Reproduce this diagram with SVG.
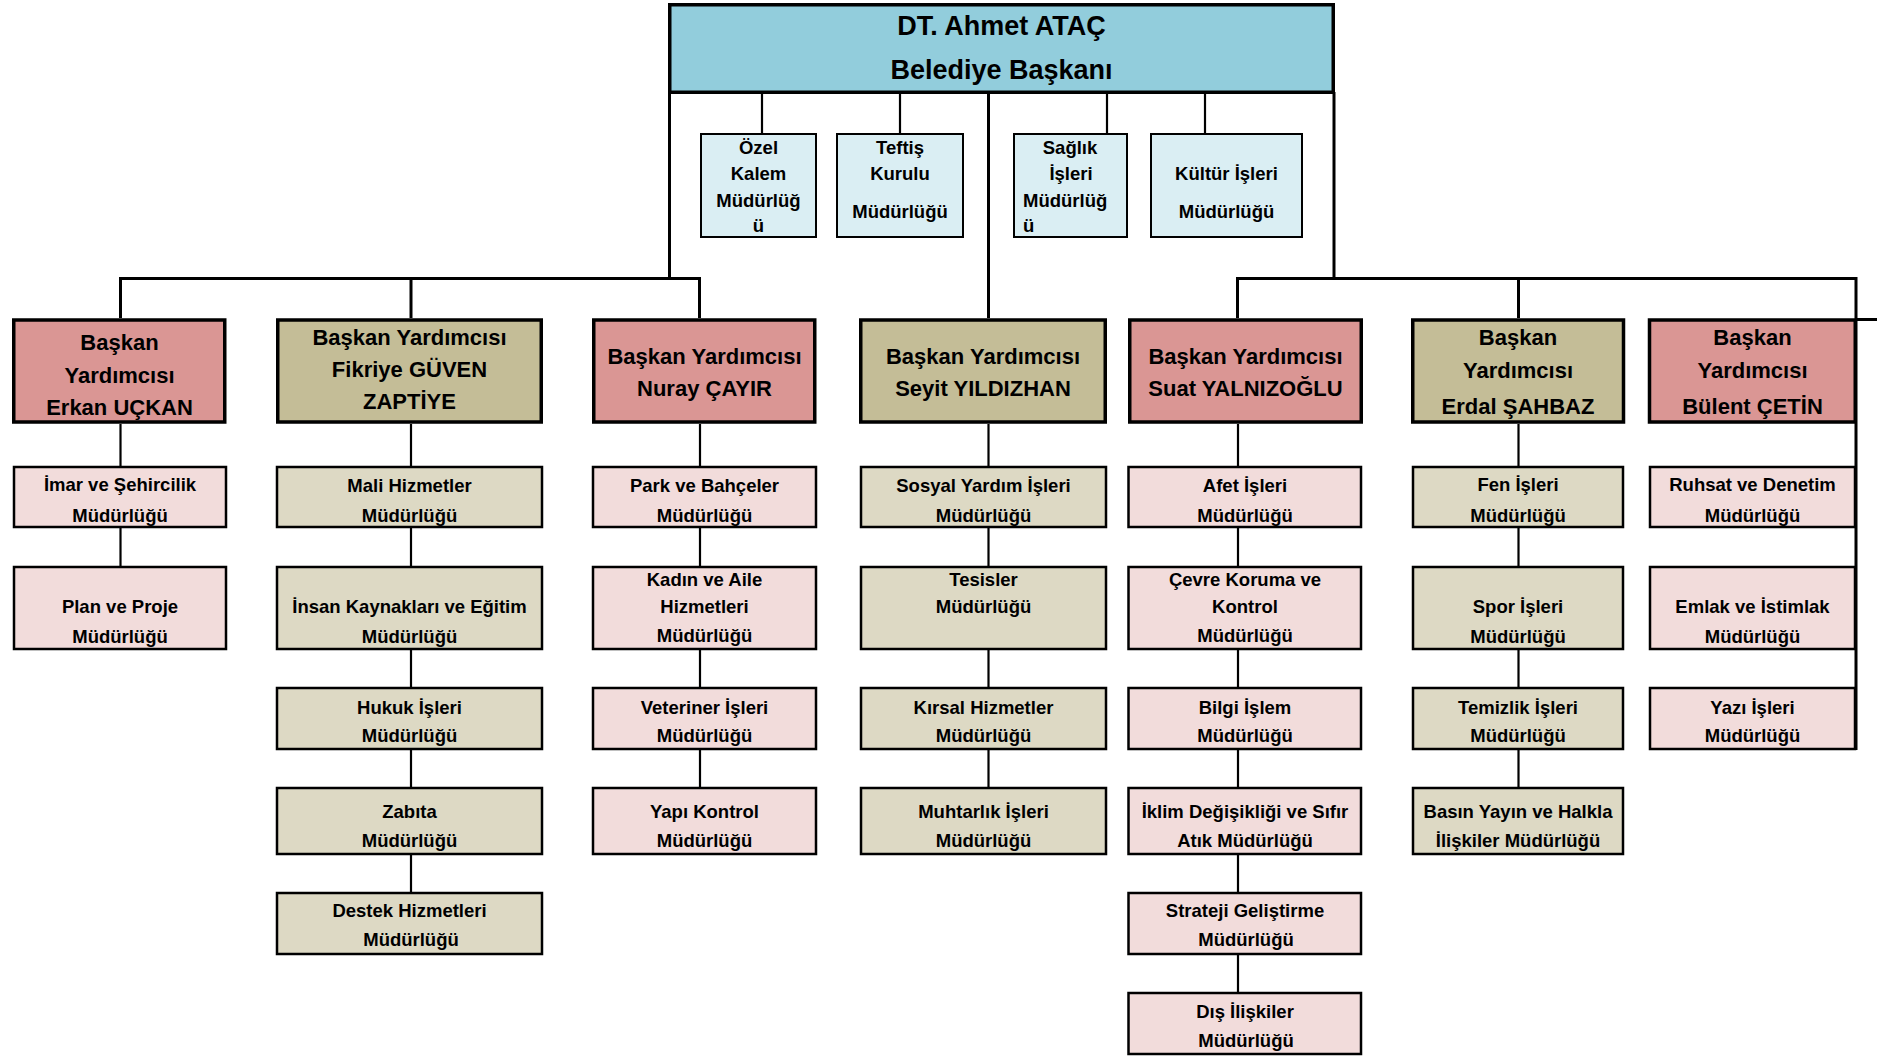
<svg xmlns="http://www.w3.org/2000/svg" width="1877" height="1056" viewBox="0 0 1877 1056">
<style>
text{font-family:"Liberation Sans",Arial,sans-serif;font-weight:bold;fill:#000;text-anchor:middle}
.t0{font-size:27px}
.t1{font-size:22px}
.t2{font-size:18.5px}
.top{fill:#92CDDC;stroke:#000;stroke-width:3.5}
.staff{fill:#DAEEF3;stroke:#000;stroke-width:2}
.vpR{fill:#DA9694;stroke:#000;stroke-width:3.5}
.vpO{fill:#C4BD97;stroke:#000;stroke-width:3.5}
.chR{fill:#F2DCDB;stroke:#000;stroke-width:2.5}
.chO{fill:#DDD9C4;stroke:#000;stroke-width:2.5}
.thick{fill:none;stroke:#000;stroke-width:3}
.thin{fill:none;stroke:#000;stroke-width:2.2}
</style>
<rect width="1877" height="1056" fill="#fff"/>
<g id="connectors">
<path class="thick" d="M669.5,92 V278.5"/>
<path class="thick" d="M120.5,318 V278.5 H699.5 V318"/>
<path class="thick" d="M411,278.5 V318"/>
<path class="thick" d="M988.5,92 V318"/>
<path class="thick" d="M1334,92 V278.5"/>
<path class="thick" d="M1237.5,318 V278.5 H1856 V750"/>
<path class="thick" d="M1518.5,278.5 V318"/>
<path class="thick" d="M1856,319.5 H1877"/>
<path class="thin" d="M762,94 V133"/>
<path class="thin" d="M900,94 V133"/>
<path class="thin" d="M1107,94 V133"/>
<path class="thin" d="M1205,94 V133"/>
<path class="thin" d="M120.5,424 V566"/>
<path class="thin" d="M411,424 V892"/>
<path class="thin" d="M700,424 V787"/>
<path class="thin" d="M988.5,424 V787"/>
<path class="thin" d="M1238,424 V992"/>
<path class="thin" d="M1518.5,424 V787"/>
</g>
<g id="mayor"><rect class="top" x="669.75" y="4.75" width="663.5" height="87.5"/>
<text class="t0" x="1001.5" y="35">DT. Ahmet ATAÇ</text><text class="t0" x="1001.5" y="79">Belediye Başkanı</text></g>
<g id="ozel-kalem"><rect class="staff" x="701" y="134" width="115" height="103"/>
<text class="t2" x="758.5" y="154">Özel</text><text class="t2" x="758.5" y="180">Kalem</text><text class="t2" x="758.5" y="206.5">Müdürlüğ</text><text class="t2" x="758.5" y="231.5">ü</text></g>
<g id="teftis"><rect class="staff" x="837" y="134" width="126" height="103"/>
<text class="t2" x="900" y="154">Teftiş</text><text class="t2" x="900" y="180">Kurulu</text><text class="t2" x="900" y="218">Müdürlüğü</text></g>
<g id="saglik"><rect class="staff" x="1014" y="134" width="113" height="103"/>
<text class="t2" x="1070" y="154">Sağlık</text><text class="t2" x="1071" y="180">İşleri</text><text class="t2" x="1023" y="206.5" style="text-anchor:start">Müdürlüğ</text><text class="t2" x="1023" y="231.5" style="text-anchor:start">ü</text></g>
<g id="kultur"><rect class="staff" x="1151" y="134" width="151" height="103"/>
<text class="t2" x="1226.5" y="180">Kültür İşleri</text><text class="t2" x="1226.5" y="218">Müdürlüğü</text></g>

<g id="vp-erkan"><rect class="vpR" x="13.75" y="320" width="211" height="102"/>
<text class="t1" x="119.5" y="350">Başkan</text><text class="t1" x="119.5" y="383">Yardımcısı</text><text class="t1" x="119.5" y="415">Erkan UÇKAN</text></g>
<g id="vp-fikriye"><rect class="vpO" x="277.75" y="320" width="263.5" height="102"/>
<text class="t1" x="409.5" y="345">Başkan Yardımcısı</text><text class="t1" x="409.5" y="377">Fikriye GÜVEN</text><text class="t1" x="409.5" y="409">ZAPTİYE</text></g>
<g id="vp-nuray"><rect class="vpR" x="593.75" y="320" width="221" height="102"/>
<text class="t1" x="704.5" y="363.5">Başkan Yardımcısı</text><text class="t1" x="704.5" y="396">Nuray ÇAYIR</text></g>
<g id="vp-seyit"><rect class="vpO" x="860.75" y="320" width="244.5" height="102"/>
<text class="t1" x="983" y="363.5">Başkan Yardımcısı</text><text class="t1" x="983" y="396">Seyit YILDIZHAN</text></g>
<g id="vp-suat"><rect class="vpR" x="1129.75" y="320" width="231.5" height="102"/>
<text class="t1" x="1245.5" y="363.5">Başkan Yardımcısı</text><text class="t1" x="1245.5" y="396">Suat YALNIZOĞLU</text></g>
<g id="vp-erdal"><rect class="vpO" x="1412.75" y="320" width="210.75" height="102"/>
<text class="t1" x="1518" y="345">Başkan</text><text class="t1" x="1518" y="378">Yardımcısı</text><text class="t1" x="1518" y="414">Erdal ŞAHBAZ</text></g>
<g id="vp-bulent"><rect class="vpR" x="1649.5" y="320" width="205.75" height="102"/>
<text class="t1" x="1752.5" y="345">Başkan</text><text class="t1" x="1752.5" y="378">Yardımcısı</text><text class="t1" x="1752.5" y="414">Bülent ÇETİN</text></g>

<g id="imar"><rect class="chR" x="14" y="467" width="212" height="60"/>
<text class="t2" x="120" y="490.5">İmar ve Şehircilik</text><text class="t2" x="120" y="521.5">Müdürlüğü</text></g>
<g id="plan"><rect class="chR" x="14" y="567" width="212" height="82"/>
<text class="t2" x="120" y="613">Plan ve Proje</text><text class="t2" x="120" y="642.5">Müdürlüğü</text></g>

<g id="mali"><rect class="chO" x="277" y="467" width="265" height="60"/>
<text class="t2" x="409.5" y="491.5">Mali Hizmetler</text><text class="t2" x="409.5" y="521.5">Müdürlüğü</text></g>
<g id="insan"><rect class="chO" x="277" y="567" width="265" height="82"/>
<text class="t2" x="409.5" y="613">İnsan Kaynakları ve Eğitim</text><text class="t2" x="409.5" y="642.5">Müdürlüğü</text></g>
<g id="hukuk"><rect class="chO" x="277" y="688" width="265" height="61"/>
<text class="t2" x="409.5" y="713.5">Hukuk İşleri</text><text class="t2" x="409.5" y="742">Müdürlüğü</text></g>
<g id="zabita"><rect class="chO" x="277" y="788" width="265" height="66"/>
<text class="t2" x="409.5" y="818">Zabıta</text><text class="t2" x="409.5" y="847">Müdürlüğü</text></g>
<g id="destek"><rect class="chO" x="277" y="893" width="265" height="61"/>
<text class="t2" x="409.5" y="917">Destek Hizmetleri</text><text class="t2" x="411" y="946">Müdürlüğü</text></g>

<g id="park"><rect class="chR" x="593" y="467" width="223" height="60"/>
<text class="t2" x="704.5" y="491.5">Park ve Bahçeler</text><text class="t2" x="704.5" y="521.5">Müdürlüğü</text></g>
<g id="kadin"><rect class="chR" x="593" y="567" width="223" height="82"/>
<text class="t2" x="704.5" y="585.5">Kadın ve Aile</text><text class="t2" x="704.5" y="613">Hizmetleri</text><text class="t2" x="704.5" y="641.5">Müdürlüğü</text></g>
<g id="veteriner"><rect class="chR" x="593" y="688" width="223" height="61"/>
<text class="t2" x="704.5" y="713.5">Veteriner İşleri</text><text class="t2" x="704.5" y="742">Müdürlüğü</text></g>
<g id="yapi"><rect class="chR" x="593" y="788" width="223" height="66"/>
<text class="t2" x="704.5" y="818">Yapı Kontrol</text><text class="t2" x="704.5" y="847">Müdürlüğü</text></g>

<g id="sosyal"><rect class="chO" x="861" y="467" width="245" height="60"/>
<text class="t2" x="983.5" y="491.5">Sosyal Yardım İşleri</text><text class="t2" x="983.5" y="521.5">Müdürlüğü</text></g>
<g id="tesisler"><rect class="chO" x="861" y="567" width="245" height="82"/>
<text class="t2" x="983.5" y="586">Tesisler</text><text class="t2" x="983.5" y="613">Müdürlüğü</text></g>
<g id="kirsal"><rect class="chO" x="861" y="688" width="245" height="61"/>
<text class="t2" x="983.5" y="713.5">Kırsal Hizmetler</text><text class="t2" x="983.5" y="742">Müdürlüğü</text></g>
<g id="muhtarlik"><rect class="chO" x="861" y="788" width="245" height="66"/>
<text class="t2" x="983.5" y="818">Muhtarlık İşleri</text><text class="t2" x="983.5" y="847">Müdürlüğü</text></g>

<g id="afet"><rect class="chR" x="1128.5" y="467" width="232.5" height="60"/>
<text class="t2" x="1245" y="491.5">Afet İşleri</text><text class="t2" x="1245" y="521.5">Müdürlüğü</text></g>
<g id="cevre"><rect class="chR" x="1128.5" y="567" width="232.5" height="82"/>
<text class="t2" x="1245" y="586">Çevre Koruma ve</text><text class="t2" x="1245" y="613">Kontrol</text><text class="t2" x="1245" y="641.5">Müdürlüğü</text></g>
<g id="bilgi"><rect class="chR" x="1128.5" y="688" width="232.5" height="61"/>
<text class="t2" x="1245" y="713.5">Bilgi İşlem</text><text class="t2" x="1245" y="742">Müdürlüğü</text></g>
<g id="iklim"><rect class="chR" x="1128.5" y="788" width="232.5" height="66"/>
<text class="t2" x="1245" y="818">İklim Değişikliği ve Sıfır</text><text class="t2" x="1245" y="847">Atık Müdürlüğü</text></g>
<g id="strateji"><rect class="chR" x="1128.5" y="893" width="232.5" height="61"/>
<text class="t2" x="1245" y="917">Strateji Geliştirme</text><text class="t2" x="1246" y="946">Müdürlüğü</text></g>
<g id="dis"><rect class="chR" x="1128.5" y="993" width="232.5" height="61"/>
<text class="t2" x="1245" y="1017.5">Dış İlişkiler</text><text class="t2" x="1246" y="1046.5">Müdürlüğü</text></g>

<g id="fen"><rect class="chO" x="1413" y="467" width="210" height="60"/>
<text class="t2" x="1518" y="491">Fen İşleri</text><text class="t2" x="1518" y="521.5">Müdürlüğü</text></g>
<g id="spor"><rect class="chO" x="1413" y="567" width="210" height="82"/>
<text class="t2" x="1518" y="612.5">Spor İşleri</text><text class="t2" x="1518" y="642.5">Müdürlüğü</text></g>
<g id="temizlik"><rect class="chO" x="1413" y="688" width="210" height="61"/>
<text class="t2" x="1518" y="713.5">Temizlik İşleri</text><text class="t2" x="1518" y="742">Müdürlüğü</text></g>
<g id="basin"><rect class="chO" x="1413" y="788" width="210" height="66"/>
<text class="t2" x="1518" y="818">Basın Yayın ve Halkla</text><text class="t2" x="1518" y="847">İlişkiler Müdürlüğü</text></g>

<g id="ruhsat"><rect class="chR" x="1650" y="467" width="205" height="60"/>
<text class="t2" x="1752.5" y="491">Ruhsat ve Denetim</text><text class="t2" x="1752.5" y="521.5">Müdürlüğü</text></g>
<g id="emlak"><rect class="chR" x="1650" y="567" width="205" height="82"/>
<text class="t2" x="1752.5" y="612.5">Emlak ve İstimlak</text><text class="t2" x="1752.5" y="642.5">Müdürlüğü</text></g>
<g id="yazi"><rect class="chR" x="1650" y="688" width="205" height="61"/>
<text class="t2" x="1752.5" y="713.5">Yazı İşleri</text><text class="t2" x="1752.5" y="742">Müdürlüğü</text></g>
</svg>
